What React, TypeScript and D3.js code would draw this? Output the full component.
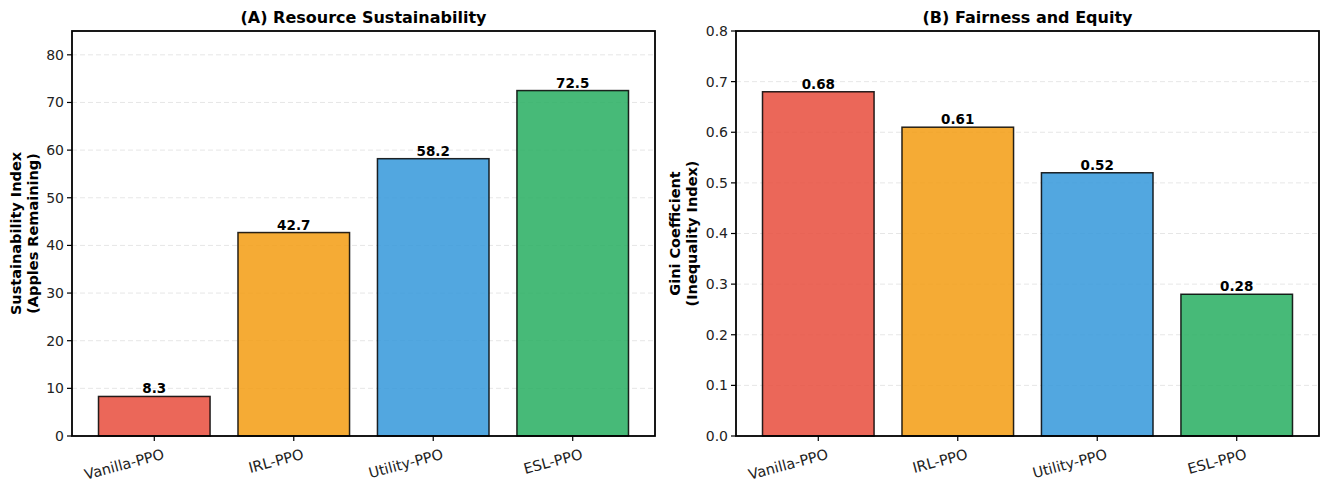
import React from "react";
import * as d3 from "d3";

const methods = ["Vanilla-PPO", "IRL-PPO", "Utility-PPO", "ESL-PPO"];
const sustainability = [8.3, 42.7, 58.2, 72.5];
const gini = [0.68, 0.61, 0.52, 0.28];
const barColors = ["#e74c3c", "#f39c12", "#3498db", "#27ae60"];
const sustTicks = [0, 10, 20, 30, 40, 50, 60, 70, 80];
const giniTicks = [0, 0.1, 0.2, 0.3, 0.4, 0.5, 0.6, 0.7, 0.8];

const W = 1322, H = 481;
const top = 31, bottom = 436;
const font = "DejaVu Sans, sans-serif";

type PanelProps = {
  left: number;
  right: number;
  title: string;
  ylab: string[];
  values: number[];
  ymax: number;
  ticks: number[];
  tickFmt: (v: number) => string;
  valFmt: (v: number) => string;
  labX: number;
};

function Panel(p: PanelProps) {
  const x = d3.scaleLinear().domain([-0.59, 3.59]).range([p.left, p.right]);
  const y = d3.scaleLinear().domain([0, p.ymax]).range([bottom, top]);
  const bw = x(0.4) - x(-0.4);
  const midY = (top + bottom) / 2;
  return (
    <g>
      {p.ticks.map((t, i) => (
        <line key={"g" + i} x1={p.left} x2={p.right} y1={y(t)} y2={y(t)}
          stroke="#b0b0b0" strokeOpacity={0.4} strokeDasharray="5,3" strokeWidth={0.8} />
      ))}
      {p.values.map((v, i) => (
        <g key={"b" + i}>
          <rect x={x(i) - bw / 2} y={y(v)} width={bw} height={bottom - y(v)}
            fill={barColors[i]} fillOpacity={0.85} stroke="#000" strokeOpacity={0.85} strokeWidth={1.5} />
          <text x={x(i)} y={y(v) - 3} textAnchor="middle" fontWeight="bold" fontSize={13.5}
            fontFamily={font} fill="#000">{p.valFmt(v)}</text>
        </g>
      ))}
      <rect x={p.left} y={top} width={p.right - p.left} height={bottom - top}
        fill="none" stroke="#000" strokeWidth={1.8} />
      {p.ticks.map((t, i) => (
        <g key={"t" + i}>
          <line x1={p.left - 5} x2={p.left} y1={y(t)} y2={y(t)} stroke="#000" strokeWidth={1.2} />
          <text x={p.left - 8} y={y(t)} dy="0.35em" textAnchor="end" fontSize={14}
            fontFamily={font} fill="#222">{p.tickFmt(t)}</text>
        </g>
      ))}
      {methods.map((m, i) => (
        <g key={"x" + i}>
          <line x1={x(i)} x2={x(i)} y1={bottom} y2={bottom + 5} stroke="#000" strokeWidth={1.2} />
          <text transform={`translate(${x(i) + 8},${bottom + 12}) rotate(-15)`} textAnchor="end"
            dy="0.75em" fontSize={14.5} fontFamily={font} fill="#222">{m}</text>
        </g>
      ))}
      <text x={(p.left + p.right) / 2} y={23} textAnchor="middle" fontWeight="bold" fontSize={16}
        fontFamily={font} fill="#000">{p.title}</text>
      <text transform={`translate(${p.labX},${midY}) rotate(-90)`} textAnchor="middle"
        fontWeight="bold" fontSize={14.5} fontFamily={font} fill="#000">
        <tspan x={0} dy="0">{p.ylab[0]}</tspan>
        <tspan x={0} dy="16.5">{p.ylab[1]}</tspan>
      </text>
    </g>
  );
}

export default function App() {
  return (
    <svg width={W} height={H} style={{ position: "absolute", left: 0, top: 0, background: "#fff" }}>
      <rect width={W} height={H} fill="#fff" />
      <Panel left={72} right={655} title="(A) Resource Sustainability"
        ylab={["Sustainability Index", "(Apples Remaining)"]} values={sustainability} ymax={85}
        ticks={sustTicks} tickFmt={(v) => String(v)} valFmt={(v) => v.toFixed(1)} labX={21} />
      <Panel left={736} right={1319} title="(B) Fairness and Equity"
        ylab={["Gini Coefficient", "(Inequality Index)"]} values={gini} ymax={0.8}
        ticks={giniTicks} tickFmt={(v) => v.toFixed(1)} valFmt={(v) => v.toFixed(2)} labX={680} />
    </svg>
  );
}
